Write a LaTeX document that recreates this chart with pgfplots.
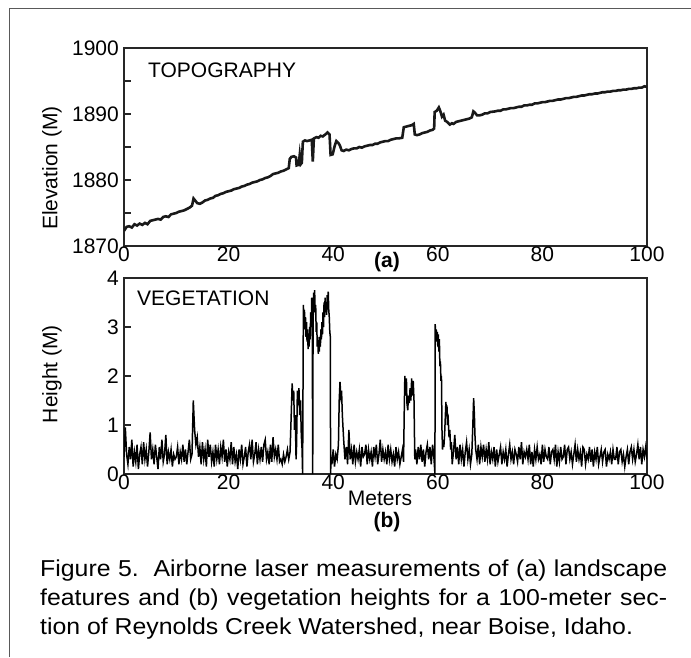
\documentclass[border=0pt]{standalone}
\usepackage{fontspec}
\setmainfont{Liberation Sans}
\newfontfamily\capfont[FakeStretch=1.08]{Liberation Sans}
\usepackage{pgfplots}
\pgfplotsset{compat=1.18}
\usepackage{pgfplotstable}

\pgfplotstableread{
x y
0 1872.3
0.5 1872.9
1 1873.0
1.5 1872.8
2 1873.3
2.5 1873.1
3 1873.4
3.5 1873.2
4 1873.5
4.5 1873.3
5 1873.8
5.5 1873.9
6 1874.0
6.5 1874.1
7 1874.0
7.5 1874.4
8 1874.5
8.5 1874.4
9 1874.8
9.5 1874.9
10 1875.0
10.5 1875.2
11 1875.3
11.5 1875.4
12 1875.6
12.5 1875.8
13 1876.1
13.3 1877.2
13.6 1876.9
14 1876.5
14.5 1876.4
15 1876.6
15.5 1876.9
16 1877.0
16.5 1877.2
17 1877.3
17.5 1877.6
18 1877.7
18.5 1877.9
19 1878.0
19.5 1878.2
20 1878.3
20.5 1878.4
21 1878.6
21.5 1878.7
22 1878.8
22.5 1879.0
23 1879.1
23.5 1879.3
24 1879.4
24.5 1879.6
25 1879.7
25.5 1879.8
26 1880.0
26.5 1880.1
27 1880.3
27.5 1880.4
28 1880.6
28.5 1880.9
29 1881.0
29.5 1881.1
30 1881.3
30.5 1881.4
31 1881.6
31.5 1881.8
31.7 1883.2
32 1883.5
32.5 1883.6
32.9 1883.4
33.0 1882.2
33.4 1882.3
33.6 1883.8
33.8 1882.4
34.0 1882.6
34.2 1885.8
34.6 1886.0
35.0 1885.9
35.5 1886.0
35.9 1886.1
36.1 1882.8
36.3 1886.3
36.8 1886.5
37.2 1886.4
37.6 1886.7
38.0 1886.6
38.5 1886.9
38.9 1887.2
39.3 1886.9
39.5 1883.8
39.9 1883.9
40.3 1885.2
40.6 1885.9
41.0 1885.6
41.3 1885.2
41.6 1884.5
42 1884.4
42.5 1884.6
43 1884.5
43.5 1884.7
44 1884.8
44.5 1884.8
45 1885.0
45.5 1884.9
46 1885.1
46.5 1885.2
47 1885.3
47.5 1885.3
48 1885.5
48.5 1885.5
49 1885.7
49.5 1885.8
50 1885.9
50.5 1885.9
51 1886.1
51.5 1886.2
52 1886.3
52.5 1886.3
53.2 1886.4
53.5 1888.0
54 1888.1
54.5 1888.2
55 1888.3
55.4 1888.5
55.6 1886.9
56 1886.8
56.5 1886.9
57 1887.1
57.5 1887.2
58 1887.3
58.5 1887.5
59 1887.6
59.3 1887.8
59.4 1890.3
59.8 1890.5
60.2 1891.0
60.5 1890.4
60.8 1889.6
61.1 1889.9
61.4 1889.0
61.8 1888.8
62.3 1888.4
62.7 1888.6
63 1888.5
63.5 1888.8
64 1888.9
64.5 1889.0
65 1889.1
65.5 1889.2
66 1889.3
66.5 1889.5
66.8 1890.4
67.1 1890.2
67.5 1889.8
68 1889.8
68.5 1889.9
69 1890.1
69.5 1890.1
70 1890.3
71 1890.4
71.5 1890.5
72 1890.5
72.5 1890.7
73 1890.7
73.5 1890.8
74 1890.9
74.5 1890.9
75 1891.0
75.5 1891.1
76 1891.1
76.5 1891.3
77 1891.3
77.5 1891.4
78 1891.4
78.5 1891.6
79 1891.6
79.5 1891.7
80 1891.8
80.5 1891.8
81 1891.9
81.5 1892.0
82 1892.0
82.5 1892.1
83 1892.2
83.5 1892.2
84 1892.3
84.5 1892.4
85 1892.4
85.5 1892.5
86 1892.6
86.5 1892.6
87 1892.7
87.5 1892.8
88 1892.8
88.5 1892.9
89 1893.0
89.5 1893.0
90 1893.1
90.5 1893.1
91 1893.2
91.5 1893.3
92 1893.3
92.5 1893.4
93 1893.4
93.5 1893.5
94 1893.5
94.5 1893.6
95 1893.6
95.5 1893.7
96 1893.7
96.5 1893.8
97 1893.8
97.5 1893.9
98 1893.9
98.5 1894.0
99 1894.0
99.5 1894.2
100 1894.1
}\topo

\begin{document}
\begin{tikzpicture}[x=1pt,y=1pt]
\path[use as bounding box] (0,0) rectangle (691,-657);
\draw[black!65, line width=1.5pt] (9.5,-657) -- (9.5,-8.5) -- (691,-8.5);

\pgfplotsset{
  myax/.style={
    scale only axis, width=523pt, xmin=0, xmax=100,
    axis line style={line width=1.4pt, black!85},
    tick style={line width=1.2pt, black!85},
    tick align=inside, ytick pos=left, xtick pos=bottom,
    xtick={0,20,40,60,80,100},
    x tick style={draw=none},
    major tick length=7pt, minor tick length=7pt,
    ticklabel style={font=\fontsize{21}{24}\selectfont},
    /pgf/number format/assume math mode=true,
    /pgf/number format/set thousands separator={},
    xticklabel style={inner sep=1pt},
    yticklabel style={inner sep=5pt},
  }
}

\begin{axis}[myax, at={(124pt,-246pt)}, anchor=south west, height=198pt,
  ymin=1870, ymax=1900, ytick={1870,1880,1890,1900}, minor ytick={1875,1885,1895}]
\addplot[line width=2.6pt, black!90] table[x=x,y=y] {\topo};
\end{axis}

\begin{axis}[myax, at={(124pt,-474pt)}, anchor=south west, height=196pt,
  ymin=0, ymax=4, ytick={0,1,2,3,4}]
\addplot[line width=1.5pt, black] coordinates {
(0,.35)(.25,.95)(.5,.4)(.75,.2)
(1,.55)(1.25,.3)(1.5,.7)(1.75,.15)
(2,.45)(2.25,.25)(2.5,.6)(2.75,.1)
(3,.4)(3.25,.55)(3.5,.2)(3.75,.65)
(4,.3)(4.25,.5)(4.5,.15)(4.75,.45)
(5,.85)(5.25,.3)(5.5,.5)(5.75,.2)
(6,.6)(6.25,.35)(6.5,.1)(6.75,.55)
(7,.3)(7.25,.7)(7.5,.25)(7.75,.4)
(8,.8)(8.25,.2)(8.5,.45)(8.75,.3)
(9,.5)(9.25,.15)(9.5,.4)(9.75,.3)
(10,.35)(10.25,.55)(10.5,.2)(10.75,.45)
(11,.3)(11.25,.6)(11.5,.25)(11.75,.5)
(12,.2)(12.25,.45)(12.5,.7)(12.75,.3)
(13,.4)(13.25,1.5)(13.5,.9)(13.75,.6)
(14,.75)(14.25,.35)(14.5,.55)(14.75,.2)
(15,.65)(15.25,.3)(15.5,.5)(15.75,.15)
(16,.7)(16.25,.35)(16.5,.6)(16.75,.25)
(17,.45)(17.25,.15)(17.5,.6)(17.75,.3)
(18,.5)(18.25,.2)(18.5,.55)(18.75,.35)
(19,.7)(19.25,.25)(19.5,.5)(19.75,.15)
(20,.45)(20.25,.3)(20.5,.65)(20.75,.2)
(21,.55)(21.25,.25)(21.5,.4)(21.75,.1)
(22,.5)(22.25,.3)(22.5,.6)(22.75,.2)
(23,.35)(23.25,.55)(23.5,.15)(23.75,.45)
(24,.6)(24.25,.3)(24.5,.7)(24.75,.25)
(25,.4)(25.25,.65)(25.5,.2)(25.75,.5)
(26,.3)(26.25,.55)(26.5,.25)(26.75,.6)
(27,.7)(27.25,.3)(27.5,.45)(27.75,.2)
(28,.6)(28.25,.25)(28.5,.75)(28.75,.35)
(29,.5)(29.25,.3)(29.5,.6)(29.75,.25)
(30,.3)(30.25,.2)(30.5,.4)(30.75,.25)
(31,.35)(31.25,.5)(31.5,.3)(31.75,.45)
(32,1.3)(32.15,1.85)(32.3,1.5)(32.45,1.7)(32.6,.9)(32.75,1.2)(32.9,.3)
(33,.6)(33.15,1.7)(33.3,1.4)(33.45,1.75)(33.6,1.2)(33.75,1.5)(33.9,.8)(34.05,.5)(34.15,0)
(34.3,3.45)(34.4,3.1)(34.5,3.35)(34.6,2.95)(34.7,3.2)(34.8,2.8)(34.9,3.1)
(35.0,2.7)(35.1,2.95)(35.2,2.55)(35.3,2.85)(35.4,2.6)(35.5,3.0)(35.6,2.75)(35.7,3.3)(35.8,3.0)(35.9,3.6)
(36.0,3.2)(36.08,0)(36.15,3.0)(36.25,3.7)(36.35,3.4)(36.45,3.75)(36.55,3.3)(36.65,3.45)(36.75,2.9)(36.85,3.1)(36.95,2.6)
(37.05,2.8)(37.15,2.45)(37.25,2.7)(37.35,2.5)(37.45,2.8)(37.55,2.6)(37.65,2.95)(37.75,2.75)(37.85,3.1)(37.95,2.85)
(38.05,3.3)(38.15,3.0)(38.25,3.5)(38.35,3.2)(38.45,3.6)(38.55,3.3)(38.65,3.5)(38.75,3.25)(38.85,3.65)(38.95,3.4)
(39.05,3.72)(39.15,3.35)(39.25,3.2)(39.35,2.9)(39.45,2.8)(39.5,0)
(39.6,.35)(39.75,.2)(40,.5)(40.25,.15)(40.5,.4)(40.75,.3)(41,.6)(41.15,1.5)(41.3,1.88)(41.45,1.6)(41.6,1.7)(41.75,1.2)(41.9,.9)
(42,.7)(42.25,.3)(42.5,.55)(42.75,.2)
(43,.9)(43.25,.3)(43.5,.5)(43.75,.2)
(44,.6)(44.25,.25)(44.5,.45)(44.75,.3)
(45,.5)(45.25,.15)(45.5,.55)(45.75,.35)
(46,.4)(46.25,.6)(46.5,.2)(46.75,.5)
(47,.3)(47.25,.45)(47.5,.15)(47.75,.55)
(48,.35)(48.25,.6)(48.5,.2)(48.75,.4)
(49,.7)(49.25,.25)(49.5,.5)(49.75,.3)
(50,.45)(50.25,.2)(50.5,.6)(50.75,.3)
(51,.5)(51.25,.25)(51.5,.4)(51.75,.15)
(52,.55)(52.25,.3)(52.5,.45)(52.75,.2)
(53,.35)(53.25,.5)(53.45,.25)
(53.6,1.4)(53.7,2.0)(53.85,1.6)(54.0,1.95)(54.1,1.45)(54.25,1.3)(54.4,1.6)(54.55,1.45)(54.7,1.75)(54.85,1.5)(55.0,1.95)(55.15,1.6)(55.3,1.9)(55.45,1.5)(55.6,.3)
(55.75,.5)(56,.2)(56.25,.55)(56.5,.3)(56.75,.6)(57,.25)(57.25,.5)(57.5,.15)(57.75,.45)(58,.6)(58.25,.3)(58.5,.55)(58.75,.2)(59,.6)(59.25,.35)
(59.45,0)(59.5,3.06)(59.6,2.8)(59.7,2.95)(59.8,2.7)(59.9,2.9)(60.0,2.6)(60.1,2.85)(60.2,2.5)(60.3,2.75)(60.4,2.2)(60.5,2.3)(60.6,1.9)(60.7,2.0)(60.8,.9)(60.9,.5)
(61.0,.7)(61.15,.55)(61.3,.8)(61.45,1.2)(61.55,1.47)(61.65,1.2)(61.75,1.4)(61.85,1.0)(62.0,1.1)(62.15,.75)(62.3,.9)(62.45,.5)(62.6,.65)(62.75,.2)
(63,.45)(63.25,.8)(63.5,.3)(63.75,.55)
(64,.2)(64.25,.6)(64.5,.3)(64.75,.5)
(65,.15)(65.25,.45)(65.5,.65)(65.75,.3)
(66,.5)(66.25,.2)(66.5,.4)(66.7,1.0)(66.85,1.55)(67.0,1.2)(67.1,.8)(67.25,.5)(67.5,.3)(67.75,.6)
(68,.2)(68.25,.55)(68.5,.35)(68.75,.6)
(69,.25)(69.25,.5)(69.5,.3)(69.75,.65)
(70,.2)(70.25,.45)(70.5,.3)(70.75,.55)
(71,.15)(71.25,.5)(71.5,.25)(71.75,.4)
(72,.55)(72.25,.2)(72.5,.45)(72.75,.3)
(73,.5)(73.25,.15)(73.5,.4)(73.75,.6)
(74,.3)(74.25,.45)(74.5,.2)(74.75,.5)
(75,.4)(75.25,.25)(75.5,.55)(75.75,.3)
(76,.65)(76.25,.2)(76.5,.45)(76.75,.35)
(77,.5)(77.25,.3)(77.5,.6)(77.75,.2)
(78,.45)(78.25,.15)(78.5,.5)(78.75,.3)
(79,.55)(79.25,.3)(79.5,.4)(79.75,.2)
(80,.6)(80.25,.25)(80.5,.5)(80.75,.35)
(81,.3)(81.25,.55)(81.5,.2)(81.75,.45)
(82,.5)(82.25,.3)(82.5,.6)(82.75,.15)
(83,.45)(83.25,.25)(83.5,.55)(83.75,.3)
(84,.35)(84.25,.6)(84.5,.2)(84.75,.5)
(85,.55)(85.25,.3)(85.5,.45)(85.75,.2)
(86,.4)(86.25,.6)(86.5,.25)(86.75,.5)
(87,.3)(87.25,.45)(87.5,.15)(87.75,.55)
(88,.5)(88.25,.2)(88.5,.4)(88.75,.3)
(89,.55)(89.25,.25)(89.5,.5)(89.75,.15)
(90,.45)(90.25,.3)(90.5,.55)(90.75,.2)
(91,.35)(91.25,.5)(91.5,.25)(91.75,.45)
(92,.5)(92.25,.15)(92.5,.4)(92.75,.3)
(93,.45)(93.25,.2)(93.5,.5)(93.75,.3)
(94,.3)(94.25,.55)(94.5,.2)(94.75,.45)
(95,.5)(95.25,.25)(95.5,.4)(95.75,.15)
(96,.35)(96.25,.5)(96.5,.2)(96.75,.45)
(97,.55)(97.25,.3)(97.5,.5)(97.75,.25)
(98,.4)(98.25,.6)(98.5,.3)(98.75,.55)
(99,.2)(99.25,.5)(99.5,.35)(99.75,.55)
(100,.3)
};
\end{axis}

\node[anchor=west, inner sep=0, font=\fontsize{21}{24}\selectfont] at (148,-70) {TOPOGRAPHY};
\node[anchor=west, inner sep=0, font=\fontsize{21}{24}\selectfont] at (137,-298) {VEGETATION};
\node[rotate=90, inner sep=0, font=\fontsize{21}{24}\selectfont] at (52,-168) {Elevation (M)};
\node[rotate=90, inner sep=0, font=\fontsize{21}{24}\selectfont] at (52,-374) {Height (M)};
\node[inner sep=0, font=\fontsize{21}{24}\selectfont\bfseries] at (387,-262) {(a)};
\node[inner sep=0, font=\fontsize{21}{24}\selectfont] at (380,-498) {Meters};
\node[inner sep=0, font=\fontsize{21}{24}\selectfont\bfseries] at (387,-522) {(b)};

\node[anchor=base west, inner sep=0, font=\capfont\fontsize{23}{26}\selectfont] at (40,-576)
  {\makebox[627pt][s]{Figure 5.\ \ Airborne laser measurements of (a) landscape}};
\node[anchor=base west, inner sep=0, font=\capfont\fontsize{23}{26}\selectfont] at (40,-605)
  {\makebox[627pt][s]{features and (b) vegetation heights for a 100-meter sec-}};
\node[anchor=base west, inner sep=0, font=\capfont\fontsize{23}{26}\selectfont] at (40,-634)
  {tion of Reynolds Creek Watershed, near Boise, Idaho.};
\end{tikzpicture}
\end{document}
